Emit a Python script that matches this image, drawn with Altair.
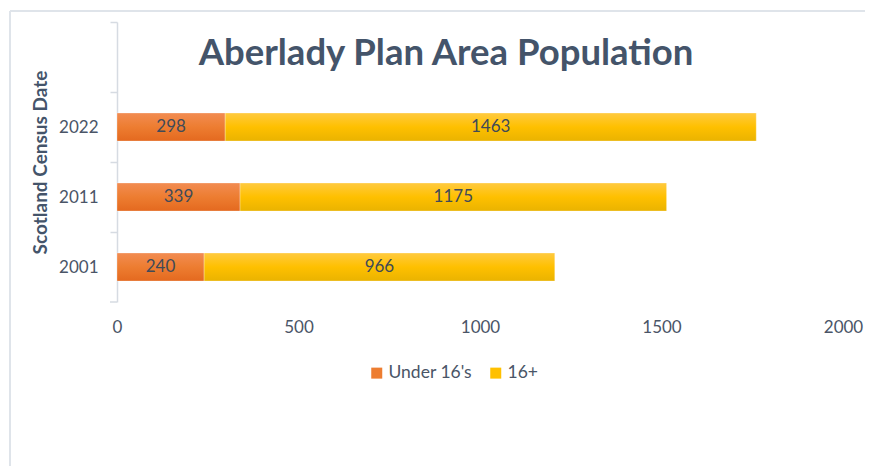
import altair as alt
import pandas as pd

years = ["2022", "2011", "2001"]
under16 = [298, 339, 240]
over16 = [1463, 1175, 966]
series = ["Under 16's", "16+"]
series_colors = ["#ED7D31", "#FFC000"]
x_ticks = [0, 500, 1000, 1500, 2000]
title_text = "Aberlady Plan Area Population"
y_title = "Scotland Census Date"

rows = []
for yr, u, o in zip(years, under16, over16):
    rows.append({"year": yr, "group": series[0], "value": u, "order": 0})
    rows.append({"year": yr, "group": series[1], "value": o, "order": 1})
df = pd.DataFrame(rows)

y_domain = [""] + years
FONT = "Lato"
AXIS_GRAY = "#d6dbe2"
LABEL_COLOR = "#4a5567"

W, H = 726, 280
STEP = H / len(y_domain)

base = alt.Chart(df).transform_stack(
    stack="value", as_=["v0", "v1"], groupby=["year"], sort=[alt.SortField("order")]
).transform_calculate(mid="(datum.v0 + datum.v1) / 2")

y_enc = alt.Y(
    "year:N",
    scale=alt.Scale(domain=y_domain, paddingInner=0.6, paddingOuter=0.3),
    title=y_title,
    axis=alt.Axis(
        tickOffset=-STEP / 2, labelOffset=STEP / 2,
        domainColor=AXIS_GRAY, tickColor=AXIS_GRAY, tickSize=7,
        domainWidth=1.5, tickWidth=1.5,
        labelFontSize=17, labelColor=LABEL_COLOR, labelFont=FONT, labelPadding=12,
        titleFontSize=19, titleFontWeight="bold", titleColor="#44546a", titleFont=FONT,
        titlePadding=8,
    ),
)

x_enc = alt.X(
    "v0:Q",
    scale=alt.Scale(domain=[0, 2000], nice=False),
    title=None,
    axis=alt.Axis(values=x_ticks, domain=False, ticks=False, grid=False, labelFlush=False,
                  labelFontSize=17, labelColor=LABEL_COLOR, labelFont=FONT,
                  labelPadding=17, format="d"),
)


def grad(top, mid, bottom):
    return alt.Gradient(
        gradient="linear",
        stops=[alt.GradientStop(offset=0, color=top),
               alt.GradientStop(offset=0.5, color=mid),
               alt.GradientStop(offset=1, color=bottom)],
        x1=0, x2=0, y1=0, y2=1,
    )


fills = [grad("#F28C52", "#ED7D31", "#E4691F"), grad("#FFCA40", "#FFC000", "#EAB300")]

# invisible layer carrying the colour scale, for the legend
legend_layer = base.mark_bar(opacity=0).encode(
    y=y_enc,
    x=x_enc,
    x2="v1:Q",
    color=alt.Color(
        "group:N",
        scale=alt.Scale(domain=series, range=series_colors),
        legend=alt.Legend(
            title=None, orient="none", direction="horizontal", legendX=251, legendY=342,
            symbolType="square", symbolSize=121, symbolStrokeWidth=0, symbolOpacity=1,
            labelFontSize=17.5, labelColor=LABEL_COLOR, labelFont=FONT, labelOffset=3,
            columnPadding=14,
        ),
    ),
)

bar_layers = [
    base.transform_filter(alt.datum.group == s).mark_bar(
        color=f, stroke="#ffffff", strokeOpacity=0.35, strokeWidth=0.8
    ).encode(y=alt.Y("year:N"), x=alt.X("v0:Q"), x2="v1:Q")
    for s, f in zip(series, fills)
]

labels = base.mark_text(fontSize=17, font=FONT, color="#404a58").encode(
    y=alt.Y("year:N"),
    x=alt.X("mid:Q"),
    text="value:Q",
)

frame_df = pd.DataFrame({"k": [0]})
frame_left = alt.Chart(frame_df).mark_rule(color="#dfe4ea", strokeWidth=2).encode(
    x=alt.value(-107), y=alt.value(-11), y2=alt.value(470)
)
frame_top = alt.Chart(frame_df).mark_rule(color="#dfe4ea", strokeWidth=2).encode(
    x=alt.value(-107), x2=alt.value(780), y=alt.value(-11)
)
end_tick = alt.Chart(frame_df).mark_rule(color=AXIS_GRAY, strokeWidth=1.5).encode(
    x=alt.value(-7), x2=alt.value(0), y=alt.value(H)
)

chart = alt.layer(frame_left, frame_top, end_tick, legend_layer, *bar_layers, labels).properties(
    width=W,
    height=H,
    autosize=alt.AutoSizeParams(type="none"),
    padding={"left": 109, "top": 14, "right": 857 - 109 - W, "bottom": 164},
    background="#ffffff",
    title=alt.TitleParams(
        title_text, fontSize=36.5, font=FONT, fontWeight="bold", color="#44546a",
        anchor="middle", offset=-62, dx=-34,
    ),
).configure_view(stroke=None)

chart.save("out.html", embed_options={"renderer": "svg", "actions": False})
